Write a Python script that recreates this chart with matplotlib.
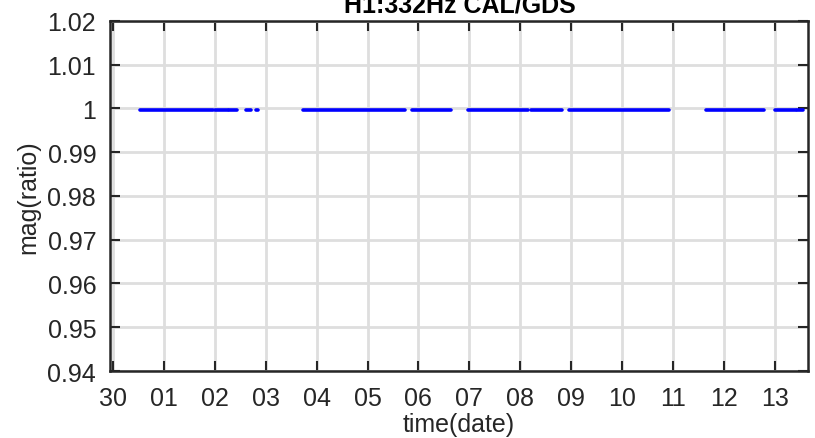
import matplotlib
matplotlib.use('Agg')
import matplotlib.pyplot as plt
from datetime import datetime, timedelta

# day offsets from 30 Apr 00:00, start/end of each stretch of data
seg_start = [0.53, 2.00, 2.28, 2.61, 2.80, 3.74, 5.87, 6.98, 8.21, 8.96, 11.65, 13.00, 13.45]
seg_end = [1.97, 2.25, 2.43, 2.72, 2.85, 5.74, 6.65, 8.15, 8.83, 10.92, 12.79, 13.42, 13.56]
seg_ratio = [0.9997] * len(seg_start)

base = datetime(2017, 4, 30)
tick_days = list(range(0, 14))
tick_labels = ['30', '01', '02', '03', '04', '05', '06', '07', '08', '09', '10', '11', '12', '13']

plt.rcParams['font.family'] = ['Liberation Sans', 'DejaVu Sans']
fg = '#262626'

fig = plt.figure(figsize=(8.15, 4.39), dpi=100)
ax = fig.add_axes([0.135, 0.1526, 0.856, 0.7974])

for s, e, r in zip(seg_start, seg_end, seg_ratio):
	ax.plot([base + timedelta(days=s), base + timedelta(days=e)], [r, r],
	        color='#0000ff', lw=2.6, solid_capstyle='round')

ax.set_xlim(base + timedelta(days=-0.06), base + timedelta(days=13.65))
ax.set_ylim(0.94, 1.02)
ax.set_xticks([base + timedelta(days=d) for d in tick_days])
ax.set_xticklabels(tick_labels)
yt = [0.94 + 0.01 * i for i in range(9)]
ax.set_yticks(yt)
ax.set_yticklabels(['%g' % round(v, 2) for v in yt])

ax.grid(True, color='#dedede', lw=2.0)
ax.set_axisbelow(True)
ax.tick_params(direction='in', length=7, width=1.5, colors=fg, labelsize=18,
               top=True, right=True)
ax.tick_params(axis='y', pad=10)
ax.tick_params(axis='x', pad=11)
for sp in ax.spines.values():
	sp.set_color(fg)
	sp.set_linewidth(1.8)

ax.set_xlabel('time(date)', fontsize=18, color=fg, labelpad=1)
ax.set_ylabel('mag(ratio)', fontsize=18, color=fg, labelpad=5)
fig.text(0.564, 0.972, 'H1:332Hz CAL/GDS', ha='center', va='baseline',
         fontsize=18, fontweight='bold', color='black')

fig.savefig('out.png', dpi=100)
